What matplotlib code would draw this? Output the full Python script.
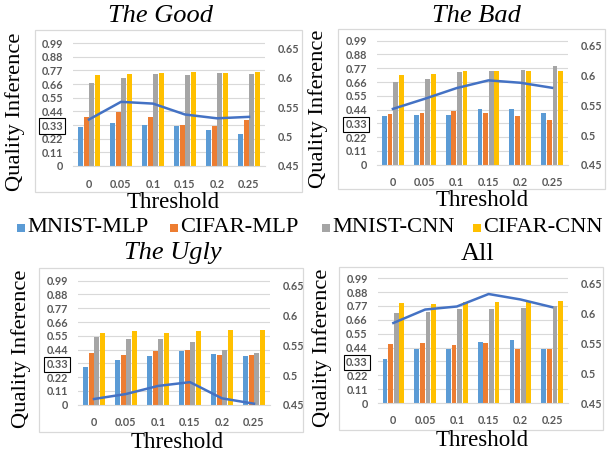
import matplotlib
matplotlib.use('Agg')
import matplotlib.pyplot as plt
from matplotlib.patches import Rectangle
import numpy as np

thresholds = ['0', '0.05', '0.1', '0.15', '0.2', '0.25']
series = ['MNIST-MLP', 'CIFAR-MLP', 'MNIST-CNN', 'CIFAR-CNN']
colors = ['#5B9BD5', '#ED7D31', '#A5A5A5', '#FFC000']
line_color = '#4472C4'

left_ticks = [0, 0.11, 0.22, 0.33, 0.44, 0.55, 0.66, 0.77, 0.88, 0.99]
left_tick_labels = ['0', '0.11', '0.22', '0.33', '0.44', '0.55', '0.66', '0.77', '0.88', '0.99']
right_ticks = [0.45, 0.5, 0.55, 0.6, 0.65]
right_tick_labels = ['0.45', '0.5', '0.55', '0.6', '0.65']

# The Good
good_mnist_mlp = [0.314, 0.343, 0.333, 0.325, 0.290, 0.255]
good_cifar_mlp = [0.397, 0.435, 0.397, 0.333, 0.325, 0.373]
good_mnist_cnn = [0.671, 0.711, 0.741, 0.730, 0.746, 0.741]
good_cifar_cnn = [0.730, 0.741, 0.746, 0.757, 0.746, 0.759]
good_line = [0.529, 0.559, 0.556, 0.5375, 0.531, 0.5335]

# The Bad
bad_mnist_mlp = [0.389, 0.396, 0.396, 0.444, 0.444, 0.415]
bad_cifar_mlp = [0.404, 0.412, 0.428, 0.415, 0.389, 0.357]
bad_mnist_cnn = [0.660, 0.684, 0.742, 0.748, 0.756, 0.785]
bad_cifar_cnn = [0.713, 0.726, 0.748, 0.748, 0.748, 0.748]
bad_line = [0.544, 0.561, 0.579, 0.592, 0.588, 0.5795]

# The Ugly
ugly_mnist_mlp = [0.298, 0.357, 0.386, 0.428, 0.404, 0.389]
ugly_cifar_mlp = [0.415, 0.396, 0.426, 0.434, 0.396, 0.396]
ugly_mnist_cnn = [0.538, 0.524, 0.524, 0.498, 0.434, 0.412]
ugly_cifar_cnn = [0.572, 0.588, 0.572, 0.588, 0.599, 0.599]
ugly_line = [0.4596, 0.468, 0.4816, 0.488, 0.4607, 0.4517]

# All
all_mnist_mlp = [0.347, 0.429, 0.429, 0.487, 0.500, 0.429]
all_cifar_mlp = [0.468, 0.474, 0.458, 0.476, 0.429, 0.429]
all_mnist_cnn = [0.715, 0.720, 0.744, 0.746, 0.757, 0.768]
all_cifar_cnn = [0.791, 0.786, 0.799, 0.805, 0.799, 0.810]
all_line = [0.584, 0.6065, 0.6116, 0.6325, 0.6234, 0.6105]

W, H = 607, 455
fig = plt.figure(figsize=(W / 100, H / 100), dpi=100)

serif = ['Liberation Serif', 'DejaVu Serif']
sans = ['Lato', 'DejaVu Sans']
tick_color = '#595959'
grid_color = '#D9D9D9'


def fx(px):
    return px / W


def fy(py):
    return 1 - py / H


panels = [
    dict(title='The Good', italic=True,
         ax=(73, 265, 166, 41.8), box=(35, 30, 302, 192),
         tpos=(160, 16), ylpos=(15, 112), xlpos=(173, 203),
         bars=[good_mnist_mlp, good_cifar_mlp, good_mnist_cnn, good_cifar_cnn], line=good_line),
    dict(title='The Bad', italic=True,
         ax=(377, 568, 164.7, 39.4), box=(338, 29, 605, 189),
         tpos=(476, 16), ylpos=(318, 109), xlpos=(482, 201),
         bars=[bad_mnist_mlp, bad_cifar_mlp, bad_mnist_cnn, bad_cifar_cnn], line=bad_line),
    dict(title='The Ugly', italic=True,
         ax=(78, 270, 404.7, 279.4), box=(39, 268, 303, 432),
         tpos=(173, 253), ylpos=(21, 349), xlpos=(177, 443),
         bars=[ugly_mnist_mlp, ugly_cifar_mlp, ugly_mnist_cnn, ugly_cifar_cnn], line=ugly_line),
    dict(title='All', italic=False,
         ax=(377.5, 568, 403, 277), box=(339, 267, 603, 430),
         tpos=(478, 254), ylpos=(322, 348), xlpos=(482, 440),
         bars=[all_mnist_mlp, all_cifar_mlp, all_mnist_cnn, all_cifar_cnn], line=all_line),
]

x = np.arange(len(thresholds))
bw = 0.15
pitch = 0.177

for p in panels:
    bx0, by0, bx1, by1 = p['box']
    fig.patches.append(Rectangle((fx(bx0), fy(by1)), fx(bx1 - bx0), (by1 - by0) / H,
                                 transform=fig.transFigure, fill=False,
                                 edgecolor=grid_color, linewidth=0.9, zorder=0))
    x0, x1, yz, yt = p['ax']
    ax = fig.add_axes([fx(x0), fy(yz), fx(x1 - x0), (yz - yt) / H])
    ax.set_facecolor('none')
    for i, (vals, c) in enumerate(zip(p['bars'], colors)):
        ax.bar(x + (i - 1.5) * pitch, vals, width=bw, color=c, zorder=2)
    ax.set_xlim(-0.5, len(thresholds) - 0.5)
    ax.set_ylim(0, 1.0)
    ax.set_yticks(left_ticks)
    ax.set_yticklabels(left_tick_labels)
    ax.set_xticks(x)
    ax.set_xticklabels(thresholds)
    ax.grid(axis='y', color=grid_color, linewidth=0.8, zorder=0)
    ax.set_axisbelow(True)
    for s in ['top', 'right', 'left']:
        ax.spines[s].set_visible(False)
    ax.spines['bottom'].set_color(grid_color)
    ax.spines['bottom'].set_linewidth(0.8)
    ax.tick_params(axis='y', length=0, pad=7, labelsize=7.8, labelcolor=tick_color)
    ax.tick_params(axis='x', length=0, pad=9, labelsize=7.8, labelcolor=tick_color)
    for lbl in ax.get_yticklabels() + ax.get_xticklabels():
        lbl.set_fontfamily(sans)
        lbl.set_fontweight('bold')
    ax.get_yticklabels()[3].set_bbox(dict(boxstyle='square,pad=0.2', facecolor='white',
                                          edgecolor='black', linewidth=0.8))

    ax2 = ax.twinx()
    ax2.plot(x, p['line'], color=line_color, linewidth=1.8, zorder=3)
    ax2.set_ylim(0.45, 0.661)
    ax2.set_yticks(right_ticks)
    ax2.set_yticklabels(right_tick_labels)
    for s in ax2.spines.values():
        s.set_visible(False)
    ax2.tick_params(axis='y', length=0, pad=9, labelsize=7.8, labelcolor=tick_color)
    for lbl in ax2.get_yticklabels():
        lbl.set_fontfamily(sans)
        lbl.set_fontweight('bold')

    fig.text(fx(p['tpos'][0]), fy(p['tpos'][1]), p['title'], ha='center', va='center',
             fontsize=19, family=serif, style='italic' if p['italic'] else 'normal')
    fig.text(fx(p['ylpos'][0]), fy(p['ylpos'][1]), 'Quality Inference', ha='center',
             va='center', rotation=90, fontsize=16.2, family=serif)
    fig.text(fx(p['xlpos'][0]), fy(p['xlpos'][1]), 'Threshold', ha='center', va='center',
             fontsize=16.5, family=serif)

# Legend
leg_sq = [17, 170, 322, 473]
leg_y = 228
for sx, name, c in zip(leg_sq, series, colors):
    fig.patches.append(Rectangle((fx(sx), fy(leg_y + 4)), fx(8), 8 / H,
                                 transform=fig.transFigure, facecolor=c, edgecolor='none'))
    fig.text(fx(sx + 10), fy(leg_y), name, ha='left', va='center', fontsize=16.2, family=serif)

fig.savefig('out.png', dpi=100)
